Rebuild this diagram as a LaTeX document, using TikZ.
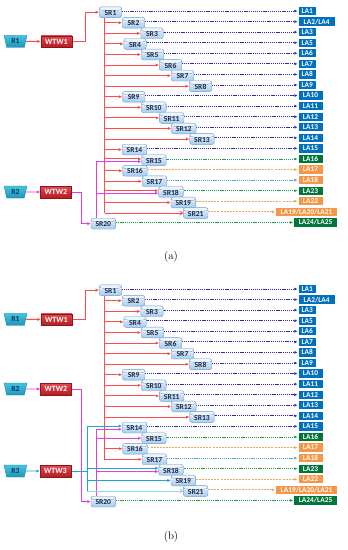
\documentclass[tikz,border=0pt]{standalone}
\usepackage{fontspec}
\newfontfamily\cfont{Carlito}
\usetikzlibrary{arrows.meta,shapes.geometric}
\definecolor{srtop}{HTML}{E3EFFB}
\definecolor{srbottom}{HTML}{A9CCEE}
\definecolor{srcap}{HTML}{EEF5FD}
\definecolor{srborder}{HTML}{6E9BD0}
\definecolor{srtext}{HTML}{1B2A44}
\definecolor{lablue}{HTML}{0070C0}
\definecolor{lagreen}{HTML}{00773A}
\definecolor{laorange}{HTML}{F79646}
\definecolor{lnavy}{HTML}{3424B0}
\definecolor{lgreen}{HTML}{1E9C52}
\definecolor{lorange}{HTML}{F9A055}
\definecolor{llblue}{HTML}{4AA6E0}
\definecolor{lred}{HTML}{FF4B4B}
\definecolor{lpink}{HTML}{E63CE6}
\definecolor{lcyan}{HTML}{1BA6DA}
\definecolor{lcyanlight}{HTML}{8ED8F2}
\definecolor{rtealtop}{HTML}{45C3E3}
\definecolor{rtealbot}{HTML}{1A97B9}
\definecolor{rtealdark}{HTML}{157D99}
\definecolor{rtext}{HTML}{12304A}
\definecolor{wtwtop}{HTML}{E2474C}
\definecolor{wtwbot}{HTML}{B71D23}
\definecolor{wtwborder}{HTML}{8C1518}
\pgfdeclarelayer{back}
\pgfdeclarelayer{bg}
\pgfsetlayers{back,bg,main}
\tikzset{
  srbox/.style={rounded corners=2.2pt, draw=srborder, line width=0.4pt,
    top color=srtop, bottom color=srbottom, minimum width=22.5pt,
    minimum height=10.8pt, inner xsep=4.5pt, inner ysep=0pt,
    text height=6.3pt, text depth=0pt, text=srtext,
    font=\cfont\bfseries\fontsize{7.6}{8}\selectfont,
    path picture={
      \fill[srcap] (path picture bounding box.north west) -- ([yshift=-2pt]path picture bounding box.north west)
        .. controls ([yshift=-4.6pt]path picture bounding box.north west) and ([yshift=-4.6pt]path picture bounding box.north east)
        .. ([yshift=-2pt]path picture bounding box.north east) -- (path picture bounding box.north east) -- cycle;
      \draw[srborder, line width=0.4pt] ([yshift=-2pt]path picture bounding box.north west)
        .. controls ([yshift=-4.6pt]path picture bounding box.north west) and ([yshift=-4.6pt]path picture bounding box.north east)
        .. ([yshift=-2pt]path picture bounding box.north east);
    }},
  labox/.style={anchor=west, minimum height=8.2pt, inner sep=0pt, text=white,
    font=\cfont\bfseries\fontsize{7.4}{8}\selectfont},
  resbox/.style={trapezium, trapezium angle=76, trapezium stretches=true,
    shape border rotate=180, minimum width=23pt, minimum height=12pt,
    inner sep=0pt, top color=rtealtop, bottom color=rtealbot, draw=rtealdark,
    line width=0.3pt, text=rtext, font=\cfont\bfseries\fontsize{7.6}{8}\selectfont},
  wtwbox/.style={minimum width=31pt, minimum height=11.5pt, inner sep=0pt,
    top color=wtwtop, bottom color=wtwbot, draw=wtwborder, line width=0.3pt,
    text=white, font=\cfont\bfseries\fontsize{8}{8}\selectfont},
  dnavy/.style={draw=lnavy, line width=0.85pt, dash pattern=on 1.1pt off 0.8pt,
    -{Latex[length=3.2pt,width=3pt]}, shorten >=0.8pt},
  dgreen/.style={draw=lgreen, line width=0.85pt, dash pattern=on 1.1pt off 0.8pt,
    -{Latex[length=3.2pt,width=3pt]}, shorten >=0.8pt},
  dlblue/.style={draw=llblue, line width=0.85pt, dash pattern=on 1.1pt off 0.8pt,
    -{Latex[length=3.2pt,width=3pt]}, shorten >=0.8pt},
  dorange/.style={draw=lorange, line width=0.85pt, dash pattern=on 2pt off 1.1pt,
    -{Latex[length=3.2pt,width=3pt]}, shorten >=0.8pt},
  redln/.style={draw=lred, line width=0.9pt},
  redarr/.style={draw=lred, line width=0.9pt, -{Latex[length=3.4pt,width=3.2pt]}},
  redopen/.style={draw=lred, line width=0.9pt, -{Straight Barb[length=2.6pt,width=4pt]}},
  pinkarr/.style={draw=lpink, line width=0.9pt, -{Latex[length=3.4pt,width=3.2pt]}},
  cyanln/.style={draw=lcyan, line width=0.9pt},
  cyanarr/.style={draw=lcyan, line width=0.9pt, -{Latex[length=3.4pt,width=3.2pt]}},
  cyanopen/.style={draw=lcyanlight, line width=0.9pt, -{Straight Barb[length=2.6pt,width=4pt]}},
}
\newcommand{\srnode}[5]{\node[srbox] (#1SR#3) at (#4,{#2+10.57*#5+1.2}) {SR#3};}
\newcommand{\lanode}[9]{%
  \node[labox, fill=#7, minimum width=#6pt] (#1LA#4) at (#5,{#2+10.57*#4}) {#9};
  \begin{pgfonlayer}{bg}\draw[#8] ([yshift=1.2pt]#1SR#3.east) -- (#1LA#4.west);\end{pgfonlayer}}
\newcommand{\drawpanel}[2]{%
  \srnode{#1}{#2}{1}{110.5}{0}
  \srnode{#1}{#2}{2}{133.5}{1}
  \srnode{#1}{#2}{3}{152}{2}
  \srnode{#1}{#2}{4}{135}{3}
  \srnode{#1}{#2}{5}{152.5}{4}
  \srnode{#1}{#2}{6}{170.5}{5}
  \srnode{#1}{#2}{7}{182.5}{6}
  \srnode{#1}{#2}{8}{200.5}{7}
  \srnode{#1}{#2}{9}{133.7}{8}
  \srnode{#1}{#2}{10}{153.8}{9}
  \srnode{#1}{#2}{11}{171.7}{10}
  \srnode{#1}{#2}{12}{183.8}{11}
  \srnode{#1}{#2}{13}{202}{12}
  \srnode{#1}{#2}{14}{134.5}{13}
  \srnode{#1}{#2}{15}{154}{14}
  \srnode{#1}{#2}{16}{135}{15}
  \srnode{#1}{#2}{17}{154.5}{16}
  \srnode{#1}{#2}{18}{171}{17}
  \srnode{#1}{#2}{19}{183.3}{18}
  \srnode{#1}{#2}{21}{195.7}{19}
  \srnode{#1}{#2}{20}{103.3}{20}
  \lanode{#1}{#2}{1}{0}{298.3}{17.4}{lablue}{dnavy}{LA1}
  \lanode{#1}{#2}{2}{1}{298.3}{36.4}{lablue}{dnavy}{LA2/LA4}
  \lanode{#1}{#2}{3}{2}{298.3}{17.4}{lablue}{dnavy}{LA3}
  \lanode{#1}{#2}{4}{3}{298.3}{17.4}{lablue}{dnavy}{LA5}
  \lanode{#1}{#2}{5}{4}{298.3}{17.4}{lablue}{dnavy}{LA6}
  \lanode{#1}{#2}{6}{5}{298.3}{17.4}{lablue}{dnavy}{LA7}
  \lanode{#1}{#2}{7}{6}{298.3}{17.4}{lablue}{dnavy}{LA8}
  \lanode{#1}{#2}{8}{7}{298.3}{17.4}{lablue}{dnavy}{LA9}
  \lanode{#1}{#2}{9}{8}{298.3}{24}{lablue}{dnavy}{LA10}
  \lanode{#1}{#2}{10}{9}{298.3}{24}{lablue}{dnavy}{LA11}
  \lanode{#1}{#2}{11}{10}{298.3}{24}{lablue}{dnavy}{LA12}
  \lanode{#1}{#2}{12}{11}{298.3}{24}{lablue}{dnavy}{LA13}
  \lanode{#1}{#2}{13}{12}{298.3}{24}{lablue}{dnavy}{LA14}
  \lanode{#1}{#2}{14}{13}{298.3}{24}{lablue}{dnavy}{LA15}
  \lanode{#1}{#2}{15}{14}{298.3}{24}{lagreen}{dgreen}{LA16}
  \lanode{#1}{#2}{16}{15}{298.3}{24}{laorange}{dorange}{LA17}
  \lanode{#1}{#2}{17}{16}{298.3}{24}{laorange}{dlblue}{LA18}
  \lanode{#1}{#2}{18}{17}{298.3}{24}{lagreen}{dgreen}{LA23}
  \lanode{#1}{#2}{19}{18}{298.3}{24}{laorange}{dorange}{LA22}
  \lanode{#1}{#2}{21}{19}{276}{60.7}{laorange}{dorange}{LA19/LA20/LA21}
  \lanode{#1}{#2}{20}{20}{294}{42.7}{lagreen}{dgreen}{LA24/LA25}
  \node[resbox] (#1R1) at (15.5,{#2+30.4}) {R1};
  \node[wtwbox] (#1W1) at (56.5,{#2+30.4}) {WTW1};
  \coordinate (#1T) at (104.5,#2);
  \begin{pgfonlayer}{bg}
    \draw[redarr] (#1R1) -- (#1W1);
    \draw[redarr] (#1W1.east) -- ++(13,0) |- (#1SR1.west);
  \end{pgfonlayer}
}
\begin{document}
\begin{tikzpicture}[x=1pt,y=-1pt]
\begin{pgfonlayer}{back}
\fill[white] (0,0) rectangle (348,550);
\end{pgfonlayer}
\useasboundingbox (0,0) rectangle (348,550);

% ---------------- panel (a) ----------------
\drawpanel{a}{11}
\node[resbox] (aR2) at (15.5,192) {R2};
\node[wtwbox] (aW2) at (56,192) {WTW2};
\coordinate (aP) at (96.7,0);
\path ([yshift=1.3pt]aSR15.west) coordinate (aS15r)
      ([yshift=-1.3pt]aSR15.west) coordinate (aS15p)
      ([yshift=1.2pt]aSR18.west) coordinate (aS18r)
      ([yshift=-1.3pt]aSR18.west) coordinate (aS18p);
\begin{pgfonlayer}{bg}
  \draw[redln] (aSR1.south -| aT) -- (aSR21.west -| aT);
  \draw[redopen] (aSR21.west -| aT) -- (aSR21.west);
  \foreach \k in {2,...,14,16,17,19} \draw[redarr] (aSR\k.west -| aT) -- (aSR\k.west);
  \draw[redarr] (aS15r -| aT) -- (aS15r);
  \draw[redarr] (aS18r -| aT) -- (aS18r);
  \draw[pinkarr] (aR2) -- (aW2);
  \draw[pinkarr] (aW2.east) -- ++(10,0) |- (aSR20.west);
  \draw[pinkarr] (aSR20.north -| aP) |- (aS15p);
  \draw[pinkarr] (aS18p -| aP) -- (aS18p);
\end{pgfonlayer}
\node[font=\fontsize{11}{11}\selectfont] (capa) at (171,257) {(a)};

% ---------------- panel (b) ----------------
\drawpanel{b}{289}
\node[resbox] (bR2) at (15.5,389) {R2};
\node[wtwbox] (bW2) at (56,389) {WTW2};
\node[resbox] (bR3) at (15.5,471) {R3};
\node[wtwbox] (bW3) at (55.5,471) {WTW3};
\coordinate (bP) at (96.7,0);
\coordinate (bC) at (87.3,0);
\path ([yshift=1.6pt]bSR14.west) coordinate (bS14c)
      ([yshift=-1.6pt]bSR14.west) coordinate (bS14p)
      ([yshift=1.6pt]bSR18.west) coordinate (bS18c)
      ([yshift=-1.6pt]bSR18.west) coordinate (bS18p);
\begin{pgfonlayer}{bg}
  \draw[redarr] (bSR1.south -| bT) |- (bSR17.west);
  \foreach \k in {2,...,13,16} \draw[redarr] (bSR\k.west -| bT) -- (bSR\k.west);
  \draw[pinkarr] (bR2) -- (bW2);
  \draw[pinkarr] (bW2.east) -- ++(10,0) |- (bSR20.west);
  \draw[pinkarr] (bSR20.north -| bP) |- (bS14p);
  \draw[pinkarr] (bSR15.west -| bP) -- (bSR15.west);
  \draw[pinkarr] (bS18p -| bP) -- (bS18p);
  \draw[cyanarr] (bR3) -- (bW3);
  \draw[cyanln] (bW3.east) -- (bW3.east -| bC);
  \draw[cyanarr] (bSR21.west -| bC) |- (bS14c);
  \draw[cyanarr] (bS18c -| bC) -- (bS18c);
  \draw[cyanarr] (bSR19.west -| bC) -- (bSR19.west);
  \draw[cyanopen] (bSR21.west -| bC) -- (bSR21.west);
\end{pgfonlayer}
\node[font=\fontsize{11}{11}\selectfont] (capb) at (171,536.5) {(b)};
\end{tikzpicture}
\end{document}
